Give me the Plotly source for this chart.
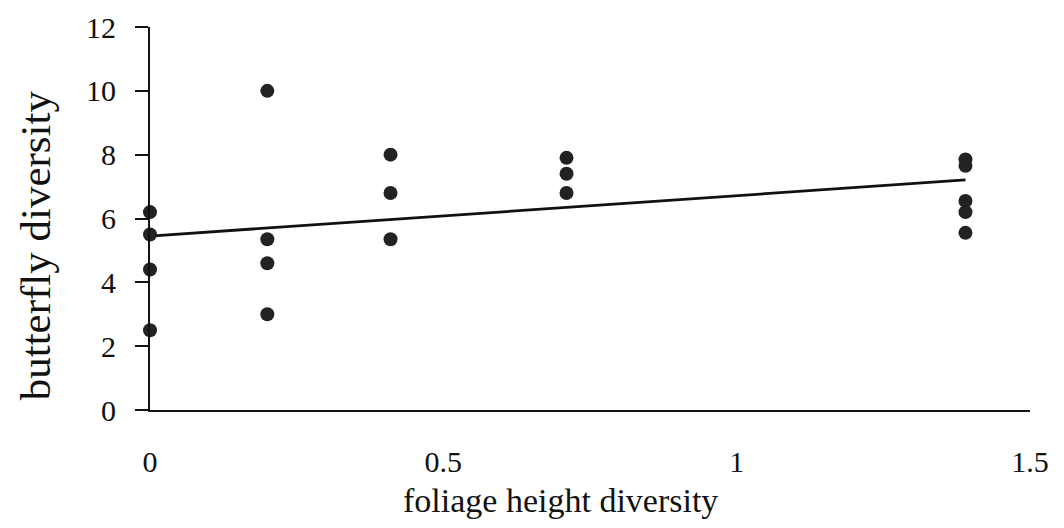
import numpy as np
import plotly.graph_objects as go

# foliage height diversity (x) and butterfly diversity (y)
fhd = [0, 0, 0, 0,
       0.2, 0.2, 0.2, 0.2,
       0.41, 0.41, 0.41,
       0.71, 0.71, 0.71,
       1.39, 1.39, 1.39, 1.39, 1.39]
bd = [6.2, 5.5, 4.4, 2.5,
      10.0, 5.35, 4.6, 3.0,
      8.0, 6.8, 5.35,
      7.9, 7.4, 6.8,
      7.85, 7.65, 6.55, 6.2, 5.55]

x_ticks = [0, 0.5, 1, 1.5]
x_tick_labels = ["0", "0.5", "1", "1.5"]
y_ticks = [0, 2, 4, 6, 8, 10, 12]
x_title = "foliage height diversity"
y_title = "butterfly diversity"

slope, intercept = np.polyfit(fhd, bd, 1)
fit_x = [min(fhd), max(fhd)]
fit_y = [intercept + slope * v for v in fit_x]

fig = go.Figure()
fig.add_trace(go.Scatter(x=fit_x, y=fit_y, mode="lines",
                         line=dict(color="#111111", width=2.8),
                         showlegend=False, hoverinfo="skip"))
fig.add_trace(go.Scatter(x=fhd, y=bd, mode="markers",
                         marker=dict(color="#222222", size=14),
                         cliponaxis=False, showlegend=False))

font_family = "Liberation Serif"
fig.update_layout(
    width=1064, height=528,
    margin=dict(l=142, r=42, t=19, b=126),
    paper_bgcolor="white", plot_bgcolor="white",
    font=dict(family=font_family, color="#111111"),
    xaxis=dict(range=[0, 1.5], tickvals=x_ticks, ticktext=x_tick_labels,
               showgrid=False, zeroline=False, showline=True,
               linecolor="#111111", linewidth=2, ticks="",
               ticklabelstandoff=24, automargin=False,
               ticklabeloverflow="allow",
               tickfont=dict(size=30, family=font_family)),
    yaxis=dict(range=[0, 12], tickvals=y_ticks,
               showgrid=False, zeroline=False, showline=True,
               linecolor="#111111", linewidth=2, ticks="outside",
               ticklen=13, tickwidth=2, tickcolor="#111111",
               ticklabelstandoff=13, automargin=False,
               ticklabeloverflow="allow",
               tickfont=dict(size=30, family=font_family)),
    annotations=[
        dict(text=x_title, xref="paper", yref="paper", x=0.466, y=0,
             yshift=-90, xanchor="center", yanchor="middle", showarrow=False,
             font=dict(size=34, family=font_family, color="#111111")),
        dict(text=y_title, xref="paper", yref="paper", x=0, y=0.43,
             xshift=-115, xanchor="center", yanchor="middle", showarrow=False,
             textangle=-90,
             font=dict(size=43, family=font_family, color="#111111")),
    ],
)
fig.write_html("out.html")
